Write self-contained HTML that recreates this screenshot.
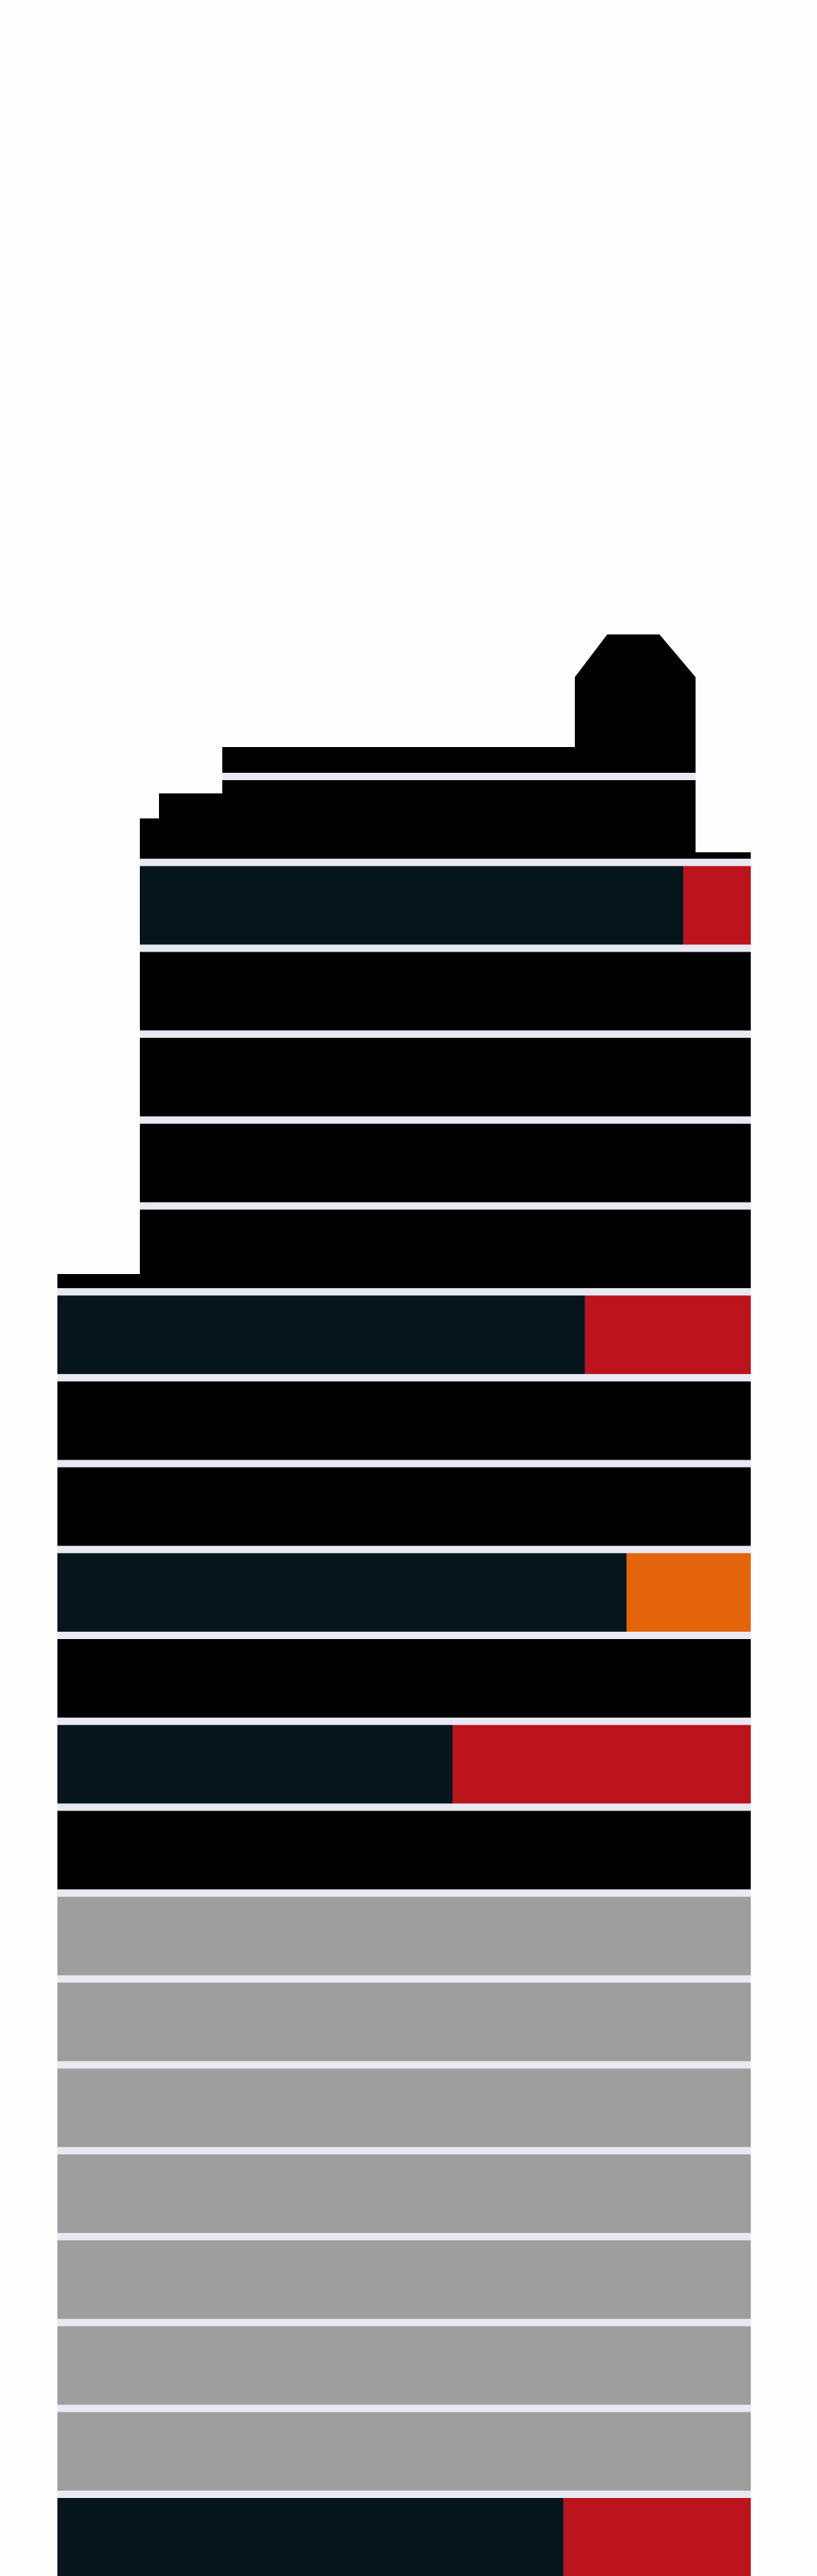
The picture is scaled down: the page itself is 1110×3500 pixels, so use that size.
<!DOCTYPE html>
<html>
<head>
<meta charset="utf-8">
<style>
html,body{margin:0;padding:0;background:#fdfdfd;}
svg{display:block;}
</style>
</head>
<body>
<svg id="chart" width="1110" height="3500" viewBox="0 0 1110 3500" xmlns="http://www.w3.org/2000/svg">
  <rect x="0" y="0" width="1110" height="3500" fill="#fdfdfd"/>
  <g id="bars"></g>
  <path fill="#000"
    d="M302,1055 L302,1015 L781,1015 L781,920 L825,862 L896,862 L945,920 L945,1158 L1020,1158 L1020,1172 L190,1172 L190,1112 L216,1112 L216,1078 L302,1078 Z"/>
  <g id="gaps"></g>
</svg>
<script>
// bar kinds: 'shape' (drawn by silhouette), 'black', 'split' (dark + accent), 'grey'
const barKinds = ['shape','split','black','black','black','black','split','black','black','split','black','split','black','grey','grey','grey','grey','grey','grey','grey','split'];
// share of dark segment for split bars (fraction of full bar width)
const darkShare = [1,0.89,1,1,1,1,0.761,1,1,0.821,1,0.57,1,1,1,1,1,1,1,1,0.73];
const accentColor = ['','#bc141c','','','','','#bc141c','','','#e3640a','','#bc141c','','','','','','','','','#bc141c'];

const firstLine = 1055, rowStep = 116.7, gapH = 10, rightX = 1020;
function rowTop(i){ return firstLine + i*rowStep; }
function leftX(i){ return i < 6 ? 190 : 78; }
function xScale(i, f){ return leftX(i) + f*(rightX-leftX(i)); }

const NS='http://www.w3.org/2000/svg';
const barsG=document.getElementById('bars');
const gapsG=document.getElementById('gaps');

function rect(parent,x,y,w,h,fill){
  const r=document.createElementNS(NS,'rect');
  r.setAttribute('x',x);r.setAttribute('y',y);r.setAttribute('width',w);r.setAttribute('height',h);r.setAttribute('fill',fill);
  parent.appendChild(r);return r;
}

barKinds.forEach((k,i)=>{
  if(k==='shape') return;
  const y0=rowTop(i), y1=(i===barKinds.length-1)?3500:rowTop(i+1);
  const lx=leftX(i);
  if(k==='black'){
    const r=rect(barsG,lx,y0,rightX-lx,y1-y0,'#000');
    
    
  } else if(k==='grey'){
    const r=rect(barsG,lx,y0,rightX-lx,y1-y0,'#9e9e9e');
    
    
  } else {
    const sx=xScale(i,darkShare[i]);
    const d=rect(barsG,lx,y0,sx-lx,y1-y0,'#06151c');
    
    
    const a=rect(barsG,sx,y0,rightX-sx,y1-y0,accentColor[i]);
    
    
  }
});
const ext=rect(barsG,78,1731,112,rowTop(6)-1731,'#000');



for(let i=0;i<barKinds.length;i++){
  const y=rowTop(i);
  const lx = i===0 ? 302 : (i>=6 ? 78 : 190);
  const rx = i===0 ? 945 : rightX;
  const g=rect(gapsG,lx,y-gapH/2,rx-lx,gapH,'#e9e9f2');
  
  
}
</script>
</body>
</html>
